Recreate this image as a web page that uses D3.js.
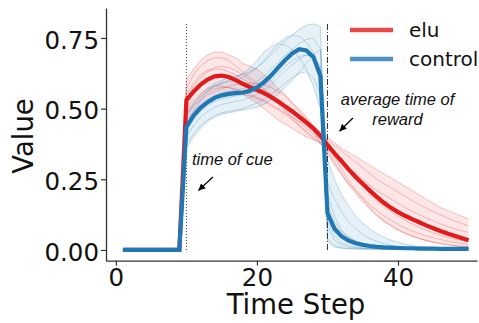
<!DOCTYPE html>
<html>
<head>
<meta charset="utf-8">
<script src="https://cdn.jsdelivr.net/npm/d3@7"></script>
<style>
  body { margin: 0; background: #fff; }
  svg { display: block; }
</style>
</head>
<body>
<svg id="chart" width="479" height="323"></svg>
<script>
// time steps 1..50, activity is zero before the cue
const steps = d3.range(1, 51);
const preCue = [0, 0, 0, 0, 0, 0, 0, 0, 0];

// values from step 10 to step 50
const eluMean = [0.53,0.56,0.585,0.603,0.614,0.617,0.612,0.601,0.588,0.576,
  0.566,0.555,0.541,0.525,0.508,0.490,0.471,0.451,0.430,0.404,
  0.372,0.342,0.314,0.285,0.258,0.234,0.210,0.188,0.167,0.149,
  0.134,0.121,0.109,0.098,0.087,0.077,0.067,0.058,0.050,0.042,
  0.034];
const controlMean = [0.435,0.475,0.503,0.523,0.538,0.547,0.552,0.555,0.557,0.563,
  0.575,0.594,0.617,0.645,0.672,0.695,0.710,0.706,0.683,0.615,
  0.130,0.075,0.048,0.033,0.024,0.018,0.014,0.011,0.009,0.008,
  0.007,0.006,0.006,0.005,0.005,0.005,0.004,0.004,0.004,0.004,
  0.004];

const eluRuns = [
  [0.60,0.64,0.67,0.69,0.70,0.70,0.69,0.68,0.66,0.65,
   0.64,0.62,0.60,0.57,0.55,0.52,0.50,0.47,0.44,0.42,
   0.40,0.38,0.36,0.345,0.33,0.315,0.30,0.285,0.27,0.255,
   0.24,0.225,0.21,0.195,0.18,0.165,0.15,0.14,0.13,0.12,
   0.11],
  [0.57,0.62,0.65,0.67,0.68,0.68,0.67,0.65,0.63,0.61,
   0.59,0.57,0.55,0.52,0.50,0.47,0.45,0.43,0.41,0.39,
   0.37,0.34,0.31,0.285,0.26,0.235,0.21,0.19,0.17,0.15,
   0.135,0.12,0.105,0.095,0.085,0.075,0.065,0.057,0.05,0.044,
   0.038],
  [0.46,0.49,0.51,0.53,0.545,0.55,0.555,0.555,0.55,0.545,
   0.535,0.525,0.51,0.495,0.48,0.46,0.44,0.42,0.40,0.38,
   0.355,0.31,0.27,0.23,0.20,0.17,0.145,0.12,0.10,0.085,
   0.07,0.058,0.048,0.04,0.033,0.027,0.022,0.018,0.015,0.012,
   0.01],
  [0.48,0.51,0.53,0.55,0.56,0.57,0.58,0.585,0.59,0.59,
   0.59,0.585,0.575,0.56,0.545,0.52,0.49,0.46,0.42,0.38,
   0.34,0.30,0.265,0.235,0.21,0.185,0.16,0.14,0.12,0.105,
   0.09,0.078,0.067,0.058,0.05,0.043,0.037,0.032,0.027,0.023,
   0.02],
  [0.53,0.58,0.61,0.63,0.645,0.65,0.645,0.635,0.62,0.60,
   0.58,0.56,0.54,0.515,0.49,0.465,0.44,0.415,0.395,0.375,
   0.36,0.335,0.31,0.29,0.27,0.25,0.23,0.21,0.195,0.18,
   0.165,0.15,0.137,0.125,0.113,0.102,0.092,0.083,0.075,0.068,
   0.062],
  [0.50,0.53,0.555,0.57,0.58,0.58,0.575,0.565,0.55,0.535,
   0.52,0.50,0.48,0.46,0.445,0.43,0.415,0.40,0.39,0.38,
   0.37,0.34,0.31,0.28,0.25,0.225,0.20,0.175,0.155,0.135,
   0.12,0.105,0.092,0.08,0.07,0.06,0.052,0.045,0.039,0.034,
   0.03],
  [0.55,0.59,0.62,0.635,0.64,0.64,0.63,0.62,0.605,0.59,
   0.575,0.565,0.55,0.535,0.515,0.50,0.48,0.46,0.44,0.415,
   0.39,0.37,0.35,0.33,0.31,0.29,0.27,0.25,0.235,0.22,
   0.205,0.19,0.175,0.16,0.148,0.136,0.124,0.113,0.103,0.094,
   0.085],
  [0.49,0.52,0.545,0.56,0.57,0.575,0.575,0.57,0.56,0.55,
   0.54,0.53,0.515,0.50,0.485,0.47,0.455,0.44,0.42,0.40,
   0.38,0.33,0.285,0.245,0.21,0.18,0.15,0.125,0.105,0.088,
   0.073,0.06,0.05,0.041,0.034,0.028,0.023,0.019,0.016,0.013,
   0.011]
];

const controlRuns = [
  [0.48,0.52,0.55,0.575,0.59,0.60,0.61,0.615,0.62,0.63,
   0.645,0.665,0.69,0.715,0.74,0.76,0.78,0.795,0.80,0.79,
   0.04,0.015,0.008,0.005,0.004,0.003,0.003,0.003,0.003,0.003,
   0.003,0.003,0.003,0.003,0.003,0.003,0.003,0.003,0.003,0.003,
   0.003],
  [0.44,0.48,0.51,0.53,0.545,0.555,0.56,0.565,0.57,0.58,
   0.595,0.615,0.64,0.665,0.69,0.71,0.73,0.745,0.75,0.71,
   0.20,0.12,0.07,0.045,0.03,0.02,0.014,0.01,0.008,0.006,
   0.005,0.004,0.004,0.004,0.004,0.004,0.004,0.004,0.004,0.004,
   0.004],
  [0.38,0.41,0.44,0.46,0.475,0.485,0.49,0.495,0.50,0.51,
   0.52,0.535,0.55,0.57,0.59,0.61,0.625,0.63,0.61,0.55,
   0.10,0.05,0.025,0.015,0.01,0.007,0.005,0.004,0.003,0.003,
   0.003,0.003,0.003,0.003,0.003,0.003,0.003,0.003,0.003,0.003,
   0.003],
  [0.45,0.49,0.53,0.56,0.58,0.59,0.60,0.61,0.625,0.645,
   0.67,0.70,0.72,0.73,0.725,0.71,0.68,0.64,0.58,0.50,
   0.24,0.18,0.135,0.10,0.075,0.055,0.04,0.03,0.022,0.016,
   0.012,0.009,0.007,0.006,0.005,0.004,0.004,0.004,0.004,0.004,
   0.004],
  [0.42,0.46,0.49,0.51,0.525,0.535,0.54,0.545,0.55,0.555,
   0.565,0.58,0.60,0.625,0.65,0.67,0.685,0.69,0.68,0.65,
   0.32,0.25,0.195,0.155,0.12,0.095,0.075,0.058,0.045,0.035,
   0.027,0.021,0.016,0.012,0.009,0.007,0.006,0.005,0.005,0.004,
   0.004],
  [0.40,0.44,0.47,0.49,0.505,0.515,0.52,0.525,0.53,0.54,
   0.55,0.565,0.585,0.61,0.635,0.655,0.675,0.69,0.685,0.64,
   0.08,0.035,0.018,0.01,0.007,0.005,0.004,0.004,0.004,0.004,
   0.004,0.004,0.004,0.004,0.004,0.004,0.004,0.004,0.004,0.004,
   0.004],
  [0.47,0.51,0.54,0.565,0.58,0.59,0.595,0.60,0.61,0.625,
   0.645,0.67,0.70,0.73,0.75,0.76,0.755,0.735,0.70,0.63,
   0.16,0.10,0.065,0.045,0.032,0.023,0.017,0.012,0.009,0.007,
   0.006,0.005,0.005,0.005,0.005,0.005,0.005,0.005,0.005,0.005,
   0.005],
  [0.36,0.40,0.43,0.455,0.47,0.48,0.485,0.49,0.495,0.50,
   0.505,0.515,0.53,0.55,0.575,0.60,0.63,0.66,0.69,0.71,
   0.03,0.01,0.006,0.004,0.003,0.003,0.003,0.003,0.003,0.003,
   0.003,0.003,0.003,0.003,0.003,0.003,0.003,0.003,0.003,0.003,
   0.003]
];

const xTicks = [0, 20, 40];
const yTicks = [0, 0.25, 0.5, 0.75];
const seriesNames = ["elu", "control"];
const cueStep = 10;
const rewardStep = 30;

const RED = "#e31a1c";
const BLUE = "#1f78b4";
const SPINE = "#333";

const svg = d3.select("#chart");

const x = d3.scaleLinear().domain([-1.4, 51.2]).range([106, 477]);
const y = d3.scaleLinear().domain([-0.038, 0.856]).range([260.7, 8]);

const full = arr => preCue.concat(arr);
const line = d3.line()
  .x((d, i) => x(steps[i]))
  .y(d => y(d));

// faint band between the runs
function band(runs, color) {
  const lo = steps.map((s, i) => d3.min(runs, r => full(r)[i]));
  const hi = steps.map((s, i) => d3.max(runs, r => full(r)[i]));
  const area = d3.area()
    .x((d, i) => x(steps[i]))
    .y0((d, i) => y(lo[i]))
    .y1((d, i) => y(hi[i]));
  svg.append("path").datum(steps).attr("d", area)
    .attr("fill", color).attr("fill-opacity", 0.11);
}
band(eluRuns, RED);
band(controlRuns, BLUE);

svg.append("g").selectAll("path")
  .data(eluRuns).enter().append("path")
  .attr("d", d => line(full(d)))
  .attr("fill", "none").attr("stroke", RED)
  .attr("stroke-opacity", 0.32).attr("stroke-width", 0.8);

svg.append("g").selectAll("path")
  .data(controlRuns).enter().append("path")
  .attr("d", d => line(full(d)))
  .attr("fill", "none").attr("stroke", BLUE)
  .attr("stroke-opacity", 0.32).attr("stroke-width", 0.8);

// cue and reward markers
svg.append("line")
  .attr("x1", x(cueStep)).attr("x2", x(cueStep))
  .attr("y1", y(0)).attr("y2", y(0.8))
  .attr("stroke", "#444").attr("stroke-width", 1)
  .attr("stroke-dasharray", "1,2");
svg.append("line")
  .attr("x1", x(rewardStep)).attr("x2", x(rewardStep))
  .attr("y1", y(0)).attr("y2", y(0.8))
  .attr("stroke", "#333").attr("stroke-width", 1)
  .attr("stroke-dasharray", "6,2,1,2");

svg.append("path").attr("d", line(full(eluMean)))
  .attr("fill", "none").attr("stroke", RED).attr("stroke-width", 4.2);
svg.append("path").attr("d", line(full(controlMean)))
  .attr("fill", "none").attr("stroke", BLUE).attr("stroke-width", 4.2);

// axes
const xAxis = svg.append("g")
  .attr("transform", "translate(0," + y.range()[0] + ")")
  .call(d3.axisBottom(x).tickValues(xTicks).tickSize(5).tickSizeOuter(0).tickPadding(3));
const yAxis = svg.append("g")
  .attr("transform", "translate(" + x.range()[0] + ",0)")
  .call(d3.axisLeft(y).tickValues(yTicks).tickFormat(d3.format(".2f"))
    .tickSize(5).tickSizeOuter(0).tickPadding(2));

[xAxis, yAxis].forEach(a => {
  a.select(".domain").attr("stroke", SPINE).attr("stroke-width", 1.3);
  a.selectAll(".tick line").attr("stroke", SPINE).attr("stroke-width", 1.2);
  a.selectAll("text").attr("font-family", "DejaVu Sans").attr("font-size", 24.5)
    .attr("fill", "#111");
});
yAxis.selectAll("text").attr("dy", "0.42em");

svg.append("text")
  .attr("x", 296).attr("y", 314)
  .attr("text-anchor", "middle")
  .attr("font-family", "DejaVu Sans").attr("font-size", 27.5).attr("fill", "#111")
  .text("Time Step");
svg.append("text")
  .attr("transform", "translate(33,136) rotate(-90)")
  .attr("text-anchor", "middle")
  .attr("font-family", "DejaVu Sans").attr("font-size", 27.5).attr("fill", "#111")
  .text("Value");

// legend
const legend = svg.append("g").attr("transform", "translate(350,30)");
seriesNames.forEach((name, i) => {
  legend.append("line")
    .attr("x1", 0).attr("x2", 43).attr("y1", i * 29).attr("y2", i * 29)
    .attr("stroke", i === 0 ? RED : BLUE).attr("stroke-opacity", 0.8)
    .attr("stroke-width", 4.5);
  legend.append("text")
    .attr("x", 59).attr("y", i * 29).attr("dy", "0.35em")
    .attr("font-family", "DejaVu Sans").attr("font-size", 20).attr("fill", "#111")
    .text(name);
});

// annotations
svg.append("defs").append("marker")
  .attr("id", "arrowhead")
  .attr("viewBox", "0 -5 10 10")
  .attr("refX", 10).attr("refY", 0)
  .attr("orient", "auto")
  .attr("markerWidth", 7).attr("markerHeight", 7)
  .attr("markerUnits", "userSpaceOnUse")
  .append("path")
  .attr("d", "M 0,-5 L 10,0 L 0,5 Z")
  .attr("fill", "#000");

const annoFont = "Liberation Sans, Arial, sans-serif";
svg.append("text")
  .attr("x", x(10.78)).attr("y", y(0.30))
  .attr("font-family", annoFont).attr("font-style", "italic")
  .attr("font-size", 16.5).attr("fill", "#111")
  .text("time of cue");
svg.append("line")
  .attr("x1", x(13.75)).attr("y1", y(0.258))
  .attr("x2", x(11.7)).attr("y2", y(0.21))
  .attr("stroke", "#000").attr("stroke-width", 1.3)
  .attr("marker-end", "url(#arrowhead)");

const rewardText = svg.append("text")
  .attr("font-family", annoFont).attr("font-style", "italic")
  .attr("font-size", 16.5).attr("fill", "#111")
  .attr("text-anchor", "middle");
rewardText.append("tspan").attr("x", 397.5).attr("y", y(0.512)).text("average time of");
rewardText.append("tspan").attr("x", 397.5).attr("y", y(0.442)).text("reward");
svg.append("line")
  .attr("x1", x(33.6)).attr("y1", y(0.467))
  .attr("x2", x(31.7)).attr("y2", y(0.42))
  .attr("stroke", "#000").attr("stroke-width", 1.3)
  .attr("marker-end", "url(#arrowhead)");
</script>
</body>
</html>
